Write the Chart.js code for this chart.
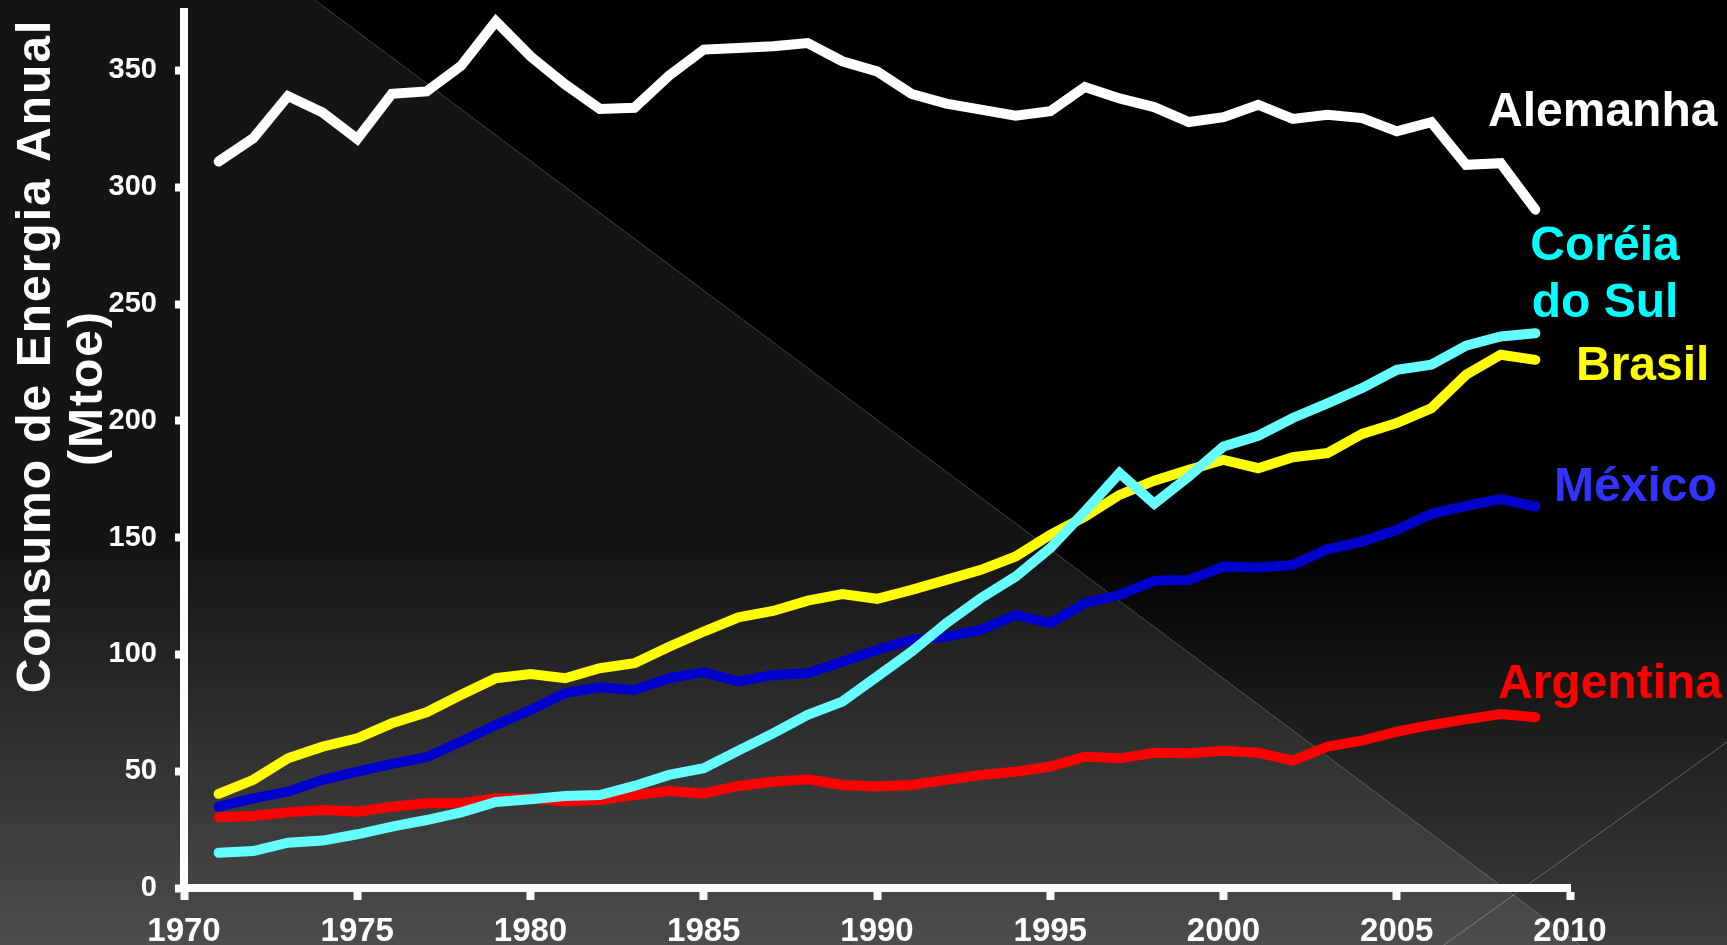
<!DOCTYPE html>
<html>
<head>
<meta charset="utf-8">
<script src="https://cdn.jsdelivr.net/npm/chart.js@4.4.1/dist/chart.umd.min.js"></script>
<style>
  html, body { margin: 0; padding: 0; background: #000; overflow: hidden; }
  canvas { display: block; }
</style>
</head>
<body>
<canvas id="myChart" width="1727" height="945"></canvas>
<script>
const years = [1971, 1972, 1973, 1974, 1975, 1976, 1977, 1978, 1979, 1980,
  1981, 1982, 1983, 1984, 1985, 1986, 1987, 1988, 1989, 1990,
  1991, 1992, 1993, 1994, 1995, 1996, 1997, 1998, 1999, 2000,
  2001, 2002, 2003, 2004, 2005, 2006, 2007, 2008, 2009];

const xTicks = [1970, 1975, 1980, 1985, 1990, 1995, 2000, 2005, 2010];
const yTicks = [0, 50, 100, 150, 200, 250, 300, 350];

// Mtoe per year
const alemanha = [311, 321, 339, 332, 320.6, 340, 341, 352, 371, 356,
  344, 333.5, 334, 347.8, 358.9, 359.6, 360.3, 361.7, 353.9, 349.6,
  339.9, 335.8, 333.2, 330.6, 332.5, 342.9, 338, 334.3, 327.9, 330,
  335.3, 329.2, 331, 329.6, 323.9, 327.8, 309.6, 310.3, 290.4];
const coreia = [15.1, 15.8, 19.4, 20.3, 23, 26.3, 29.1, 32.4, 36.8, 38,
  39.4, 39.8, 43.7, 48.4, 51.3, 58.8, 66.2, 74.1, 79.8, 90.5,
  101.2, 113.4, 124.1, 133.3, 145.5, 161.2, 177.6, 164.5, 176.2, 189,
  193.6, 201.2, 207.5, 214, 221.8, 224, 232.2, 236.1, 237.5];
const brasil = [40.3, 46.3, 55.5, 60.5, 64.1, 70.5, 75.2, 82.7, 89.8, 91.6,
  89.8, 94.1, 96.2, 103.3, 109.8, 115.9, 118.6, 123, 125.8, 123.8,
  127.6, 131.9, 136.2, 141.9, 151.2, 159, 168.3, 174.4, 179, 183.3,
  179.7, 184.4, 186.2, 194.4, 199, 205.4, 219.7, 228.3, 226.1];
const mexico = [34.8, 38.4, 41.2, 46.3, 49.8, 53.1, 56, 62.7, 69.8, 76.2,
  83.4, 85.9, 84.8, 89.8, 92.4, 88.4, 91.2, 91.9, 96.9, 101.9,
  106.2, 107.6, 110.5, 116.9, 113.4, 121.9, 125.5, 131.5, 131.9, 137.6,
  137.2, 138.3, 145, 148.3, 153.3, 160.2, 163.6, 166.5, 163.3];
const argentina = [30.3, 30.8, 32.4, 33.4, 32.7, 34.8, 36.3, 36.3, 38.4, 38.4,
  37, 37.7, 39.8, 41.5, 40.5, 43.7, 45.5, 46.5, 44.1, 43.4,
  44.1, 46.3, 48.4, 49.8, 52, 56.2, 55.5, 57.9, 57.7, 58.8,
  57.9, 54.5, 60.5, 63.1, 66.9, 69.8, 72.2, 74.5, 73.1];

const yTitle = ['Consumo de Energia Anual', '(Mtoe)'];

const FONT = '"Liberation Sans", Arial, sans-serif';

function toPoints(values) {
  return years.map((yr, i) => ({ x: yr, y: values[i] }));
}

// slide background: dark gradient with the lighter diagonal panel
const backgroundPlugin = {
  id: 'slideBackground',
  beforeDraw(chart) {
    const ctx = chart.ctx;
    const w = chart.width;
    const h = chart.height;
    ctx.save();
    const grad = ctx.createLinearGradient(0, 0, 0, h);
    grad.addColorStop(0, '#000000');
    grad.addColorStop(0.57, '#000000');
    grad.addColorStop(1, '#3e3e3e');
    ctx.fillStyle = grad;
    ctx.fillRect(0, 0, w, h);

    ctx.fillStyle = 'rgba(255,255,255,0.08)';
    ctx.beginPath();
    ctx.moveTo(0, 0);
    ctx.lineTo(315, 0);
    ctx.lineTo(1580, h);
    ctx.lineTo(0, h);
    ctx.closePath();
    ctx.fill();

    ctx.lineWidth = 1;
    ctx.strokeStyle = 'rgba(255,255,255,0.22)';
    ctx.beginPath();
    ctx.moveTo(315, 0);
    ctx.lineTo(1580, h);
    ctx.stroke();

    ctx.strokeStyle = 'rgba(255,255,255,0.28)';
    ctx.beginPath();
    ctx.moveTo(1444, h);
    ctx.lineTo(w, 742);
    ctx.stroke();
    ctx.restore();
  }
};

// axis title and the country names next to the lines
const labelsPlugin = {
  id: 'textLabels',
  afterDraw(chart) {
    const ctx = chart.ctx;
    ctx.save();
    ctx.fillStyle = '#ffffff';
    ctx.font = 'bold 48px ' + FONT;
    ctx.textAlign = 'center';
    ctx.textBaseline = 'alphabetic';
    ctx.letterSpacing = '2px';
    ctx.save();
    ctx.translate(50, 356);
    ctx.rotate(-Math.PI / 2);
    ctx.fillText(yTitle[0], 0, 0);
    ctx.restore();
    ctx.save();
    ctx.translate(102, 388);
    ctx.rotate(-Math.PI / 2);
    ctx.fillText(yTitle[1], 0, 0);
    ctx.restore();
    ctx.letterSpacing = '0px';

    ctx.textAlign = 'left';
    ctx.fillStyle = '#ffffff';
    ctx.fillText('Alemanha', 1488, 126);
    ctx.fillStyle = '#00ffff';
    ctx.textAlign = 'center';
    ctx.fillText('Coréia', 1605, 260);
    ctx.fillText('do Sul', 1605, 317);
    ctx.textAlign = 'left';
    ctx.fillStyle = '#ffff00';
    ctx.fillText('Brasil', 1576, 380);
    ctx.fillStyle = '#3333ff';
    ctx.fillText('México', 1554, 501);
    ctx.fillStyle = '#ff0000';
    ctx.fillText('Argentina', 1498, 698);
    ctx.restore();
  }
};

function generateChart() {
  const ctx = document.getElementById('myChart');

  new Chart(ctx, {
    type: 'line',
    data: {
      datasets: [
        { label: 'Coréia do Sul', data: toPoints(coreia), borderColor: '#66ffff' },
        { label: 'Alemanha', data: toPoints(alemanha), borderColor: '#ffffff' },
        { label: 'Brasil', data: toPoints(brasil), borderColor: '#ffff00' },
        { label: 'México', data: toPoints(mexico), borderColor: '#0000cc' },
        { label: 'Argentina', data: toPoints(argentina), borderColor: '#ff0000' }
      ]
    },
    plugins: [backgroundPlugin, labelsPlugin],
    options: {
      responsive: false,
      animation: false,
      devicePixelRatio: 1,
      layout: {
        padding: { left: 0, top: 12, right: 157, bottom: 0 }
      },
      elements: {
        line: {
          borderWidth: 10,
          borderCapStyle: 'round',
          borderJoinStyle: 'miter',
          tension: 0,
          fill: false
        },
        point: { radius: 0, hoverRadius: 0 }
      },
      datasets: {
        line: { clip: false }
      },
      plugins: {
        legend: { display: false },
        tooltip: { enabled: false }
      },
      scales: {
        x: {
          type: 'linear',
          min: 1970,
          max: 2010,
          afterBuildTicks: axis => { axis.ticks = xTicks.map(v => ({ value: v })); },
          afterFit: axis => {
            axis.height = 57;
            axis.paddingLeft = 0;
            axis.paddingRight = 0;
          },
          ticks: {
            color: '#ffffff',
            font: { family: FONT, size: 33, weight: 'bold' },
            padding: 12,
            autoSkip: false,
            maxRotation: 0,
            callback: v => String(v)
          },
          grid: {
            drawOnChartArea: false,
            drawTicks: true,
            tickLength: 12,
            tickWidth: 8,
            tickColor: '#ffffff'
          },
          border: { display: true, color: '#ffffff', width: 8 }
        },
        y: {
          type: 'linear',
          min: 0,
          max: 375,
          afterBuildTicks: axis => { axis.ticks = yTicks.map(v => ({ value: v })); },
          afterFit: axis => {
            axis.width = 184;
            axis.paddingTop = 0;
            axis.paddingBottom = 0;
          },
          ticks: {
            color: '#ffffff',
            font: { family: FONT, size: 29, weight: 'bold' },
            padding: 18
          },
          grid: {
            drawOnChartArea: false,
            drawTicks: true,
            tickLength: 9,
            tickWidth: 8,
            tickColor: '#ffffff'
          },
          border: { display: true, color: '#ffffff', width: 8 }
        }
      }
    }
  });
}

generateChart();
</script>
</body>
</html>
